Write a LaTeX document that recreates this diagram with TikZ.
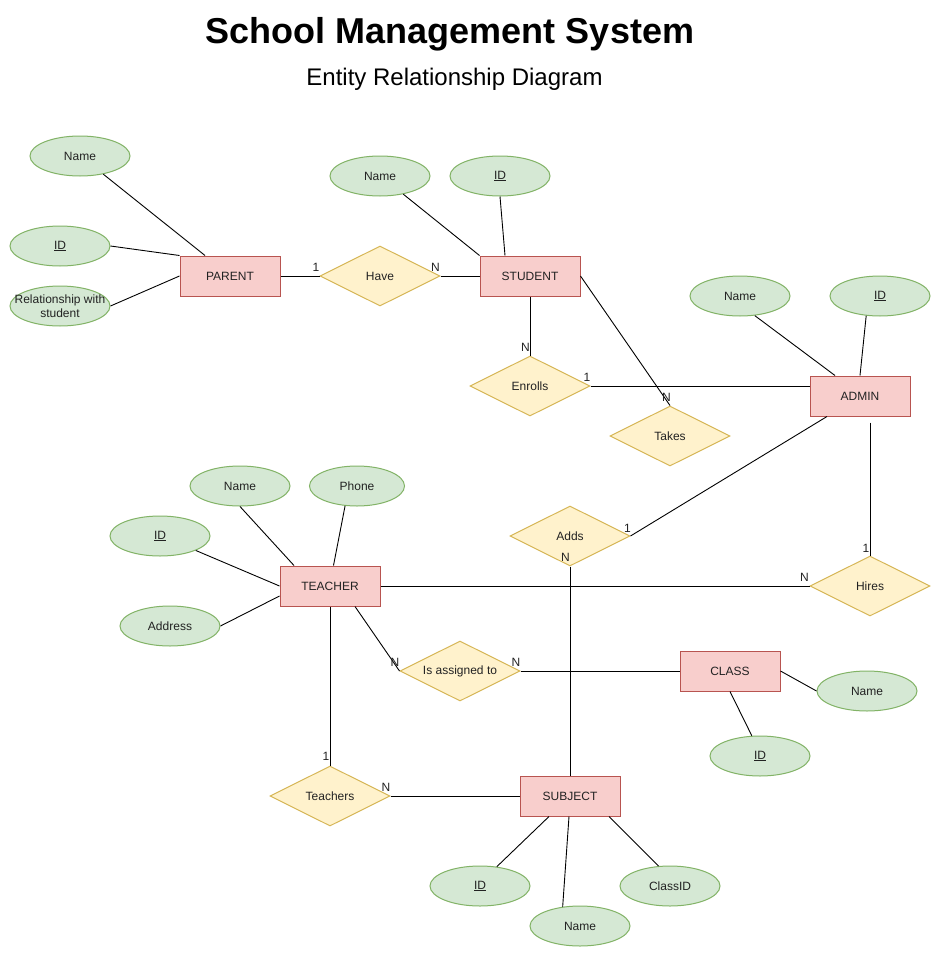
\documentclass[tikz,border=0pt]{standalone}
\usepackage{fontspec}
\setmainfont{Liberation Sans}
\usetikzlibrary{shapes.geometric,calc}
\definecolor{entfill}{HTML}{F8CECC}
\definecolor{entdraw}{HTML}{B85450}
\definecolor{relfill}{HTML}{FFF2CC}
\definecolor{reldraw}{HTML}{D6B656}
\definecolor{attfill}{HTML}{D5E8D4}
\definecolor{attdraw}{HTML}{82B366}
\definecolor{txt}{HTML}{222222}
\begin{document}
\begin{tikzpicture}[x=1pt,y=-1pt,
  basefont/.style={font=\fontsize{12}{14}\selectfont},
  entity/.style={rectangle, draw=entdraw, fill=entfill, line width=1pt, minimum width=100pt, minimum height=40pt, inner sep=0pt, basefont, text=txt},
  rel/.style={diamond, draw=reldraw, fill=relfill, line width=1pt, minimum width=120pt, minimum height=60pt, inner sep=0pt, aspect=2, basefont, text=txt},
  attr/.style={ellipse, draw=attdraw, fill=attfill, line width=1pt, minimum width=100pt, minimum height=40pt, inner sep=0pt},
  attrtext/.style={basefont, align=center, inner sep=0pt, text=txt},
  link/.style={draw=black, line width=0.9pt},
  card/.style={basefont, inner sep=0pt, text=txt}
]
\useasboundingbox[fill=white] (0,0) rectangle (942,958);

% titles
\node[anchor=base, font=\fontsize{36}{40}\selectfont\bfseries, inner sep=0pt] (title) at (450,44) {School Management System};
\node[anchor=base, font=\fontsize{24}{28}\selectfont, inner sep=0pt] (subtitle) at (454.5,85) {Entity Relationship Diagram};

% entities
\node[entity] (parent) at (230,276) {PARENT};
\node[entity] (student) at (530,276) {STUDENT};
\node[entity] (admin) at (860,396) {ADMIN};
\node[entity] (teacher) at (330,586) {TEACHER};
\node[entity] (class) at (730,671) {CLASS};
\node[entity] (subject) at (570,796) {SUBJECT};

% relationships
\node[rel] (have) at (380,276) {Have};
\node[rel] (enrolls) at (530,386) {Enrolls};
\node[rel] (takes) at (670,436) {Takes};
\node[rel] (adds) at (570,536) {Adds};
\node[rel] (hires) at (870,586) {Hires};
\node[rel] (assigned) at (460,671) {Is assigned to};
\node[rel] (teaches) at (330,796) {Teachers};

% attributes
\node[attr, label={[attrtext]center:Name}] (pname) at (80,156) {};
\node[attr, label={[attrtext]center:\underline{ID}}] (pid) at (60,246) {};
\node[attr, label={[attrtext]center:Relationship with\\student}] (prel) at (60,306) {};
\node[attr, label={[attrtext]center:Name}] (sname) at (380,176) {};
\node[attr, label={[attrtext]center:\underline{ID}}] (sid) at (500,176) {};
\node[attr, label={[attrtext]center:Name}] (aname) at (740,296) {};
\node[attr, label={[attrtext]center:\underline{ID}}] (aid) at (880,296) {};
\node[attr, label={[attrtext]center:Name}] (tname) at (240,486) {};
\node[attr, minimum width=95pt, label={[attrtext]center:Phone}] (phone) at (357,486) {};
\node[attr, label={[attrtext]center:\underline{ID}}] (tid) at (160,536) {};
\node[attr, label={[attrtext]center:Address}] (address) at (170,626) {};
\node[attr, label={[attrtext]center:Name}] (cname) at (867,691) {};
\node[attr, label={[attrtext]center:\underline{ID}}] (cid) at (760,756) {};
\node[attr, label={[attrtext]center:\underline{ID}}] (subid) at (480,886) {};
\node[attr, label={[attrtext]center:Name}] (subname) at (580,926) {};
\node[attr, label={[attrtext]center:ClassID}] (classid) at (670,886) {};

% attribute links
\draw[link] (pname.-38) -- ($(parent.north)+(-25,0)$);
\draw[link] (pid.east) -- (parent.north west);
\draw[link] (prel.east) -- (parent.west);
\draw[link] (sname.-38) -- (student.north west);
\draw[link] (sid.south) -- ($(student.north)+(-25,0)$);
\draw[link] (aname.-53) -- ($(admin.north)+(-25,0)$);
\draw[link] (aid.-125) -- (admin.north);
\draw[link] (tname.south) -- ($(teacher.north)+(-36,0)$);
\draw[link] (phone.-121) -- ($(teacher.north)+(3.5,0)$);
\draw[link] (tid.-22) -- (teacher.west);
\draw[link] (address.east) -- ($(teacher.west)+(0,10)$);
\draw[link] (class.east) -- (cname.west);
\draw[link] (class.south) -- (cid.112);
\draw[link] ($(subject.south)+(-21,0)$) -- (subid.49);
\draw[link] ($(subject.south)+(-1,0)$) -- (subname.132);
\draw[link] ($(subject.south)+(39,0)$) -- (classid.120);

% relationship links
\draw[link] (parent.east) -- (have.west);
\draw[link] (have.east) -- (student.west);
\draw[link] (student.south) -- (enrolls.north);
\draw[link] (enrolls.east) -- ($(admin.west)+(0,-10)$);
\draw[link] (student.east) -- (takes.north);
\draw[link] ($(admin.south)+(-33,0)$) -- (adds.east);
\coordinate (adminhire) at ($(admin.south)+(10,6)$);
\draw[link] (adminhire) -- (hires.north);
\draw[link] (teacher.east) -- (hires.west);
\draw[link] ($(teacher.south)+(25,0)$) -- (assigned.west);
\draw[link] (assigned.east) -- (class.west);
\draw[link] (teacher.south) -- (teaches.north);
\draw[link] (teaches.east) -- (subject.west);
\draw[link] (adds.south) -- (subject.north);

% cardinalities
\node[card] (c1) at ($(have.west)+(-3.5,-9)$) {1};
\node[card] (c2) at ($(have.east)+(-5,-9)$) {N};
\node[card] (c3) at ($(enrolls.north)+(-4.5,-8.5)$) {N};
\node[card] (c4) at ($(enrolls.east)+(-3.5,-8.5)$) {1};
\node[card] (c5) at ($(takes.north)+(-3.5,-8)$) {N};
\node[card] (c6) at ($(adds.east)+(-3,-7.5)$) {1};
\node[card] (c7) at ($(adds.south)+(-4.5,-9)$) {N};
\node[card] (c8) at ($(hires.north)+(-4,-7.5)$) {1};
\node[card] (c9) at ($(hires.west)+(-5,-9)$) {N};
\node[card] (c10) at ($(assigned.west)+(-4.5,-8.5)$) {N};
\node[card] (c11) at ($(assigned.east)+(-4.5,-8.5)$) {N};
\node[card] (c12) at ($(teaches.north)+(-4,-9)$) {1};
\node[card] (c13) at ($(teaches.east)+(-4.5,-9)$) {N};
\end{tikzpicture}
\end{document}
